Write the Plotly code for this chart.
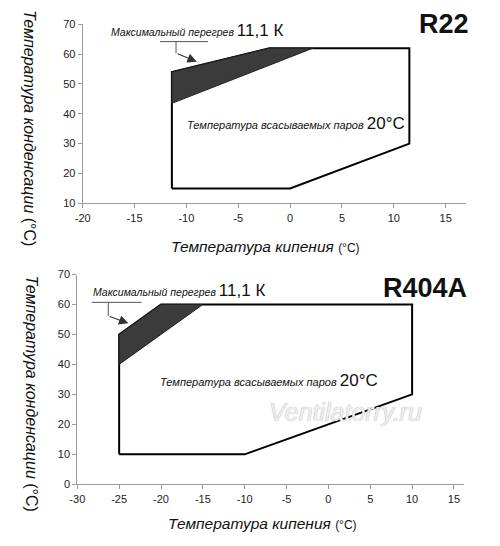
import plotly.graph_objects as go

W, H = 500, 546
OFF = 8  # page body margin offset seen in the browser

# ---------------- data ----------------
# R22 operating envelope (evaporating temp, condensing temp)
r22_env_x = [-11.4, 0, 11.5, 11.5, -2.0, -11.4, -11.4]
r22_env_y = [15, 15, 30, 62, 62, 54, 15]
# R22 max superheat 11.1 K zone
r22_sh_x = [-11.4, -2.0, 2.2, -11.4, -11.4]
r22_sh_y = [54, 62, 62, 43.5, 54]

# R404A operating envelope
r404_env_x = [-25, -10, 10, 10, -20, -25, -25]
r404_env_y = [10, 10, 30, 60, 60, 50, 10]
# R404A max superheat zone
r404_sh_x = [-25, -20, -15, -25, -25]
r404_sh_y = [50, 60, 60, 40, 50]

r22_xticks = [-20, -15, -10, -5, 0, 5, 10, 15]
r22_xlabels = ["-20", "-15", "-10", "-5", "0", "5", "10", "15"]
r22_yticks = [10, 20, 30, 40, 50, 60, 70]
r404_xticks = [-30, -25, -20, -15, -10, -5, 0, 5, 10, 15]
r404_xlabels = ["-30", "-25", "-20", "-15", "-10", "-5", "0", "5", "10", "15"]
r404_yticks = [0, 10, 20, 30, 40, 50, 60, 70]

FONT = "Liberation Sans, Arial, sans-serif"
DARK = "#3b3b3b"
AX = "#9a9a9a"


def px(x):
    return (x - OFF) / W


def py(y):
    return 1 - (y - OFF) / H


fig = go.Figure()

for env_x, env_y, sh_x, sh_y, xa, ya in [
    (r22_env_x, r22_env_y, r22_sh_x, r22_sh_y, "x", "y"),
    (r404_env_x, r404_env_y, r404_sh_x, r404_sh_y, "x2", "y2"),
]:
    fig.add_trace(go.Scatter(x=env_x, y=env_y, mode="lines", fill="toself",
                             fillcolor="white", line=dict(color="black", width=2),
                             xaxis=xa, yaxis=ya, hoverinfo="skip", showlegend=False))
    fig.add_trace(go.Scatter(x=sh_x, y=sh_y, mode="lines", fill="toself",
                             fillcolor=DARK, line=dict(color="#222222", width=1),
                             xaxis=xa, yaxis=ya, hoverinfo="skip", showlegend=False))

axis_common = dict(showline=True, linecolor=AX, linewidth=1, ticks="outside",
                   ticklen=4, tickwidth=1, tickcolor=AX, showgrid=False,
                   zeroline=False, automargin=False,
                   tickfont=dict(family=FONT, size=11, color="#222222"),
                   fixedrange=True)

fig.update_layout(
    template="none",
    width=W, height=H, autosize=False,
    margin=dict(l=0, r=0, t=0, b=0, pad=0, autoexpand=False),
    paper_bgcolor="white", plot_bgcolor="white",
    xaxis=dict(domain=[px(82.7), px(466.4)], range=[-20, 17.0], tickvals=r22_xticks,
               ticktext=r22_xlabels, anchor="y", **axis_common),
    yaxis=dict(domain=[py(203.3), py(24.3)], range=[10, 70], tickvals=r22_yticks,
               anchor="x", **axis_common),
    xaxis2=dict(domain=[px(77.3), px(464)], range=[-30, 16.2], tickvals=r404_xticks,
                ticktext=r404_xlabels, anchor="y2", **axis_common),
    yaxis2=dict(domain=[py(484.3), py(274.5)], range=[0, 70], tickvals=r404_yticks,
                anchor="x2", **axis_common),
)

annots = []


def txt(text, x, y, size, **kw):
    d = dict(text=text, x=px(x), y=py(y), xref="paper", yref="paper",
             showarrow=False, font=dict(family=FONT, size=size, color="#111111"))
    d.update(kw)
    annots.append(d)


sh_label = "<i>Максимальный перегрев</i> <span style='font-size:17px'>11,1 К</span>"
suct_label = "<i>Температура всасываемых паров</i> <span style='font-size:17px'>20°C</span>"
xt = "<i>Температура кипения</i> <span style='font-size:12px'>(°C)</span>"
yt = "<i>Температура конденсации</i> (°C)"

# top chart texts
txt("<b>R22</b>", 443.7, 23.5, 27, xanchor="center", yanchor="middle")
txt(sh_label, 109, 30.5, 10.5, xanchor="left", yanchor="middle")
txt(suct_label, 185, 123, 11, xanchor="left", yanchor="middle")
txt(xt, 265.5, 246.5, 15.5, xanchor="center", yanchor="middle")
txt(yt, 30, 128, 16, xanchor="center", yanchor="middle", textangle=90)

# bottom chart texts
txt("<b>R404A</b>", 425, 288, 27, xanchor="center", yanchor="middle")
txt(sh_label, 91, 290, 10.5, xanchor="left", yanchor="middle")
txt(suct_label, 158, 380.7, 11, xanchor="left", yanchor="middle")
txt(xt, 262, 523, 15.5, xanchor="center", yanchor="middle")
txt(yt, 31.5, 393, 16, xanchor="center", yanchor="middle", textangle=90)

# watermark
txt("<i>Ventilatorry.ru</i>", 345, 412, 25, xanchor="center", yanchor="middle",
    font=dict(family=FONT, size=25, color="#eeeeee",
              shadow="0px 0px 1px #999999"))

# arrows of the superheat labels
annots.append(dict(x=-9.0, y=57.45, ax=-11.0, ay=60.3, xref="x", yref="y",
                   axref="x", ayref="y", showarrow=True, arrowhead=2, arrowsize=1.7,
                   arrowwidth=1.1, arrowcolor="#333333", text=""))
annots.append(dict(x=-23.9, y=53.7, ax=-26.3, ay=56.2, xref="x2", yref="y2",
                   axref="x2", ayref="y2", showarrow=True, arrowhead=2, arrowsize=1.7,
                   arrowwidth=1.1, arrowcolor="#333333", text=""))

fig.update_layout(annotations=annots)

shapes = [
    dict(type="path", xref="x", yref="y",
         path="M -12.55,64.2 L -7.92,64.2 M -11.0,64.2 L -11.0,60.3",
         line=dict(color="#555555", width=1)),
    dict(type="path", xref="x2", yref="y2",
         path="M -28.28,60.7 L -22.31,60.7 M -26.3,60.7 L -26.3,56.2",
         line=dict(color="#555555", width=1)),
]
fig.update_layout(shapes=shapes)

fig.write_html("out.html")
